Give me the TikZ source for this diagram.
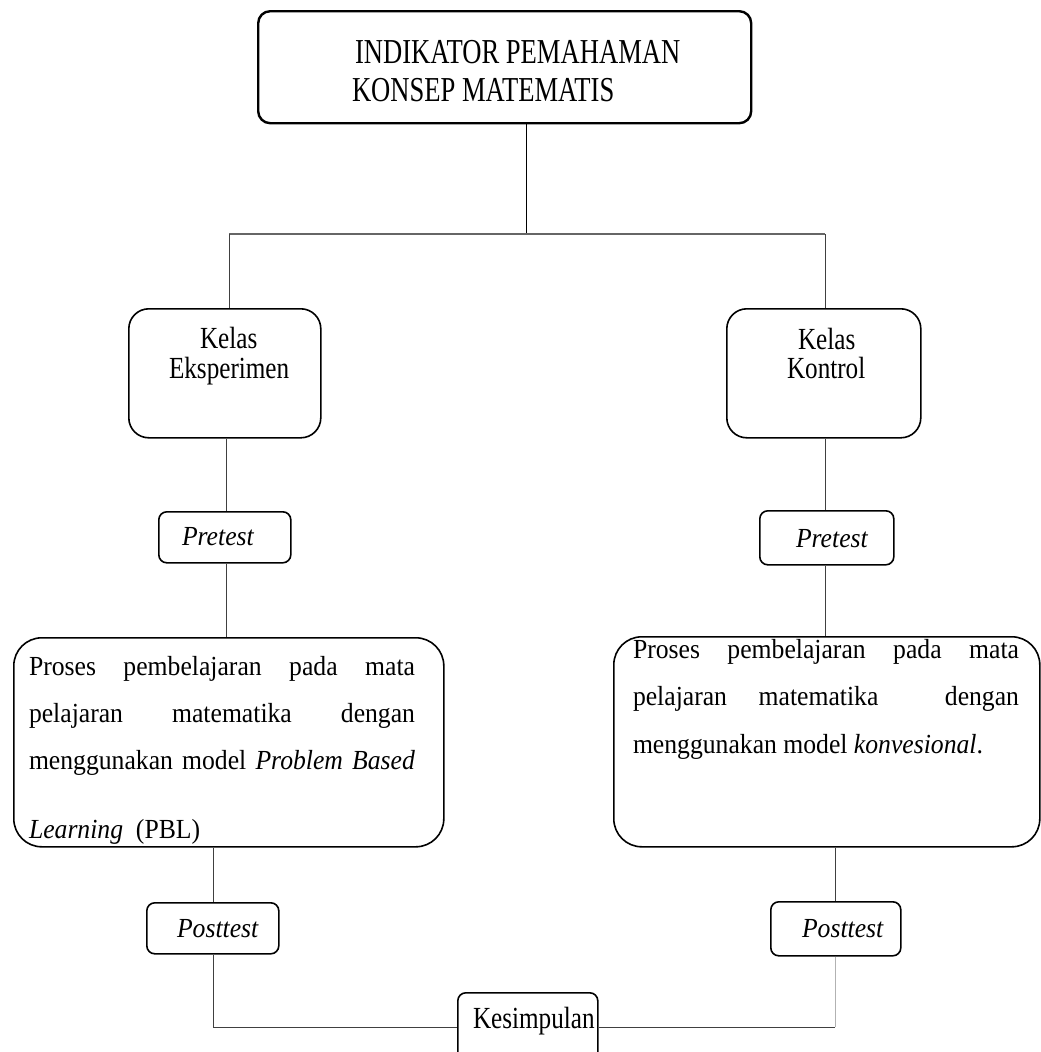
\documentclass[tikz,border=0pt]{standalone}
\usepackage{fontspec}
\setmainfont{Liberation Serif}
\newfontfamily\titlefont[FakeStretch=0.76]{Liberation Serif}
\newfontfamily\condfont[FakeStretch=0.82]{Liberation Serif}
\newfontfamily\bodyfont[FakeStretch=0.93]{Liberation Serif}
\begin{document}
\begin{tikzpicture}[x=1bp,y=-1bp,
  box/.style={draw=black,line width=1.6bp,inner sep=0pt,anchor=north west},
  titlebox/.style={box,line width=2.4bp,rounded corners=12bp},
  kelasbox/.style={box,rounded corners=20bp},
  testbox/.style={box,rounded corners=8bp},
  bigbox/.style={box,rounded corners=28bp},
  txt/.style={anchor=base west,inner sep=0pt,outer sep=0pt},
  ttl/.style={txt,font=\titlefont\fontsize{35bp}{38bp}\selectfont},
  kls/.style={txt,font=\condfont\fontsize{30.7bp}{31bp}\selectfont},
  bdy/.style={txt,font=\bodyfont\fontsize{27.6bp}{30bp}\selectfont},
  conn/.style={draw=black!75,line width=1bp},
  connlight/.style={draw=black!30,line width=1bp}
]
\useasboundingbox (0,0) rectangle (1041,1052);
\clip (0,0) rectangle (1041,1052);

% boxes
\node[titlebox,minimum width=493bp,minimum height=112bp] (title) at (257,10) {};
\node[kelasbox,minimum width=192bp,minimum height=129bp] (ke) at (128,308) {};
\node[kelasbox,minimum width=194bp,minimum height=129bp] (kk) at (726,308) {};
\node[testbox,minimum width=132bp,minimum height=51bp] (pre1) at (158,511) {};
\node[testbox,minimum width=134bp,minimum height=54bp] (pre2) at (759,510) {};
\node[bigbox,minimum width=430bp,minimum height=209bp] (pl) at (13,637) {};
\node[bigbox,minimum width=426bp,minimum height=210bp] (pr) at (613,636) {};
\node[testbox,minimum width=132bp,minimum height=51bp] (post1) at (146,902) {};
\node[testbox,minimum width=130bp,minimum height=54bp] (post2) at (770,901) {};
\node[testbox,minimum width=140bp,minimum height=80bp] (kes) at (457,992) {};

% texts
\node[ttl] (t1) at (355,63) {INDIKATOR PEMAHAMAN};
\node[ttl] (t2) at (352,101) {KONSEP MATEMATIS};
\node[kls] (ke1) at (200,348) {Kelas};
\node[kls] (ke2) at (169,378) {Eksperimen};
\node[kls] (kk1) at (798,349) {Kelas};
\node[kls] (kk2) at (787,378) {Kontrol};
\node[bdy] (pre1t) at (182,545) {\itshape Pretest};
\node[bdy] (pre2t) at (796,547) {\itshape Pretest};
\node[bdy] (pl1) at (29,675) {\makebox[386bp][s]{Proses pembelajaran pada mata}};
\node[bdy] (pl2) at (29,722) {\makebox[386bp][s]{pelajaran matematika dengan}};
\node[bdy] (pl3) at (29,769) {\makebox[386bp][s]{menggunakan model \textit{Problem Based}}};
\node[bdy] (pl4) at (29,838) {\textit{Learning}\ \ (PBL)};
\node[bdy] (pr1) at (633,658) {\makebox[386bp][s]{Proses pembelajaran pada mata}};
\node[bdy] (pr2) at (633,705) {\makebox[386bp][s]{pelajaran\hspace{0pt plus 1fil}matematika\hspace{0pt plus 2.1fil}dengan}};
\node[bdy] (pr3) at (633,753) {menggunakan model \textit{konvesional}.};
\node[bdy] (post1t) at (177,937) {\itshape Posttest};
\node[bdy] (post2t) at (802,937) {\itshape Posttest};
\node[kls] (kest) at (473,1028) {Kesimpulan};

% connector coordinates
\coordinate (j) at (526,234);
\coordinate (jl) at (229,234);
\coordinate (jr) at (825,234);
\coordinate (cL) at (226,0);
\coordinate (cR) at (825,0);
\coordinate (cL2) at (213,1027);
\coordinate (cR2) at (835,1027);

% connectors
\draw[draw=black,line width=1bp] (title.south -| j) -- (j);
\draw[draw=black!60,line width=1.4bp] (jl) -- (jr);
\draw[conn] (jl) -- (jl |- ke.north);
\draw[conn] (jr) -- (jr |- kk.north);
\draw[conn] (ke.south -| cL) -- (pre1.north -| cL);
\draw[conn] (pre1.south -| cL) -- (pl.north -| cL);
\draw[conn] (kk.south -| cR) -- (pre2.north -| cR);
\draw[conn] (pre2.south -| cR) -- (pr.north -| cR);
\draw[conn] (pl.south -| cL2) -- (post1.north -| cL2);
\draw[conn] (post1.south -| cL2) -- (cL2) -- (cL2 -| kes.west);
\draw[conn] (pr.south -| cR2) -- (post2.north -| cR2);
\draw[connlight] (post2.south -| cR2) -- (cR2);
\draw[conn] (cR2) -- (cR2 -| kes.east);
\end{tikzpicture}
\end{document}
